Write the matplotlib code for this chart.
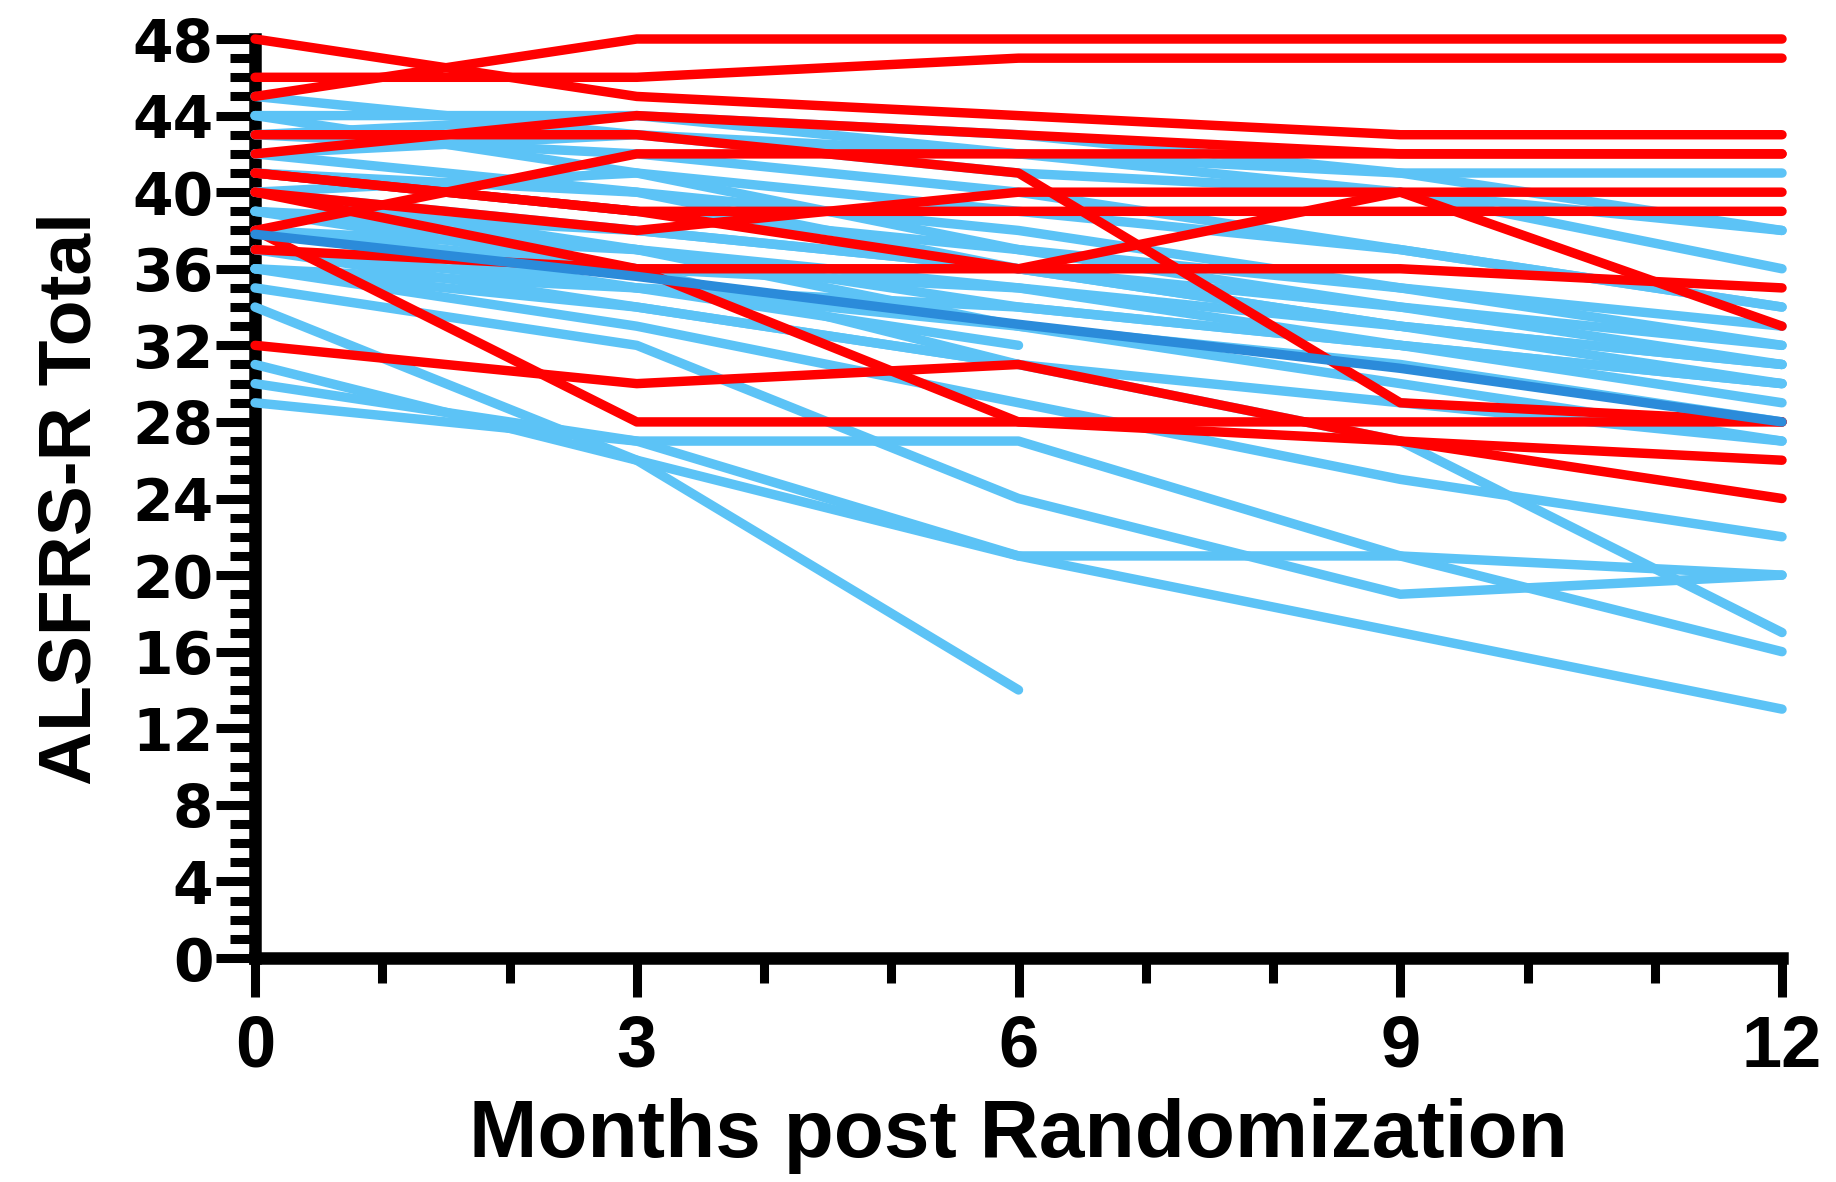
import matplotlib
matplotlib.use("Agg")
import matplotlib.pyplot as plt
from matplotlib.ticker import MultipleLocator, FixedLocator

# ---- data ----
months = [0, 3, 6, 9, 12]

red_series = [
    [45, 48, 48, 48, 48],
    [46, 46, 47, 47, 47],
    [48, 45, 44, 43, 43],
    [38, 28, 28, 28, 28],
    [32, 30, 31, 27, 24],
    [40, 36, 28, 27, 26],
    [37, 36, 36, 36, 35],
    [43, 43, 41, 29, 28],
    [41, 39, 36, 40, 40],
    [38, 42, 42, 42, 42],
    [42, 44, 43, 42, 42],
    [41, 39, 39, 39, 39],
    [40, 38, 40, 40, 33],
]

blue_series = [
    [44, 44, 42, 41, 41],
    [42, 43, 42, 40, 38],
    [45, 43, 41, 40, 36],
    [43, 42, 40, 37, 34],
    [41, 40, 38, 35, 33],
    [40, 38, 36, 34, 32],
    [39, 37, 35, 33, 31],
    [38, 36, 35, 32, 30],
    [40, 37, 33, 30, 27],
    [37, 35, 33, 31, 28],
    [36, 33, 29, 25, 22],
    [35, 32, 24, 19, 20],
    [30, 27, 21, 21, 20],
    [39, 36, 31, 27, 17],
    [29, 27, 27, 21, 16],
    [31, 26, 21, 17, 13],
    [34, 26, 14],
    [38, 35, 32],
    [36, 34, 31],
    [44, 41, 37, 34, 31],
    [42, 40, 36, 33, 30],
    [37, 34, 31, 29, 27],
    [43, 44, 43, 41, 38],
    [40, 41, 39, 37, 34],
    [39, 38, 36, 33, 31],
    [38, 37, 34, 32, 30],
    [41, 39, 37, 35, 32],
    [36, 35, 34, 32, 29],
]

mean_series = [37.8, 35.6, 33.1, 30.8, 28.0]

x_major = [0, 3, 6, 9, 12]
y_major = list(range(0, 49, 4))

RED = "#FF0000"
LIGHT_BLUE = "#5CC3F6"
DARK_BLUE = "#2B8BDA"

fig = plt.figure(figsize=(18.36, 11.82), dpi=100)
ax = fig.add_axes([0.1389, 0.1895, 0.8317, 0.7775])

lw = 6.8
for s in blue_series:
    ax.plot(months[:len(s)], s, color=LIGHT_BLUE, lw=lw, solid_capstyle="round",
            solid_joinstyle="round", clip_on=False, zorder=3)
for s in red_series:
    ax.plot(months[:len(s)], s, color=RED, lw=lw, solid_capstyle="round",
            solid_joinstyle="round", clip_on=False, zorder=3)
ax.plot(months, mean_series, color=DARK_BLUE, lw=lw, solid_capstyle="round",
        solid_joinstyle="round", clip_on=False, zorder=4)

ax.set_xlim(0, 12)
ax.set_ylim(0, 48)
for side in ["top", "right"]:
    ax.spines[side].set_visible(False)
for side in ["left", "bottom"]:
    ax.spines[side].set_linewidth(9)
    ax.spines[side].set_capstyle("projecting")

ax.xaxis.set_major_locator(FixedLocator(x_major))
ax.xaxis.set_minor_locator(MultipleLocator(1))
ax.yaxis.set_major_locator(FixedLocator(y_major))
ax.yaxis.set_minor_locator(MultipleLocator(1))

ax.tick_params(which="major", length=28, width=6.5, color="black")
ax.tick_params(which="minor", length=18, width=6.5, color="black")
ax.tick_params(axis="y", which="major", pad=2)
ax.tick_params(axis="x", which="major", pad=12)

ax.set_xticklabels([str(v) for v in x_major], fontfamily="Liberation Sans",
                   fontweight="bold", fontsize=52)
ax.set_yticklabels([str(v) for v in y_major], fontfamily="DejaVu Sans",
                   fontweight="bold", fontsize=42)

ax.set_xlabel("Months post Randomization", fontfamily="Liberation Sans",
              fontweight="bold", fontsize=59)
ax.set_ylabel("ALSFRS-R Total", fontfamily="Liberation Sans",
              fontweight="bold", fontsize=54)
ax.xaxis.set_label_coords(0.5, -0.152)
ax.yaxis.set_label_coords(-0.098, 0.5)

fig.savefig("out.png", dpi=100, facecolor="white")
